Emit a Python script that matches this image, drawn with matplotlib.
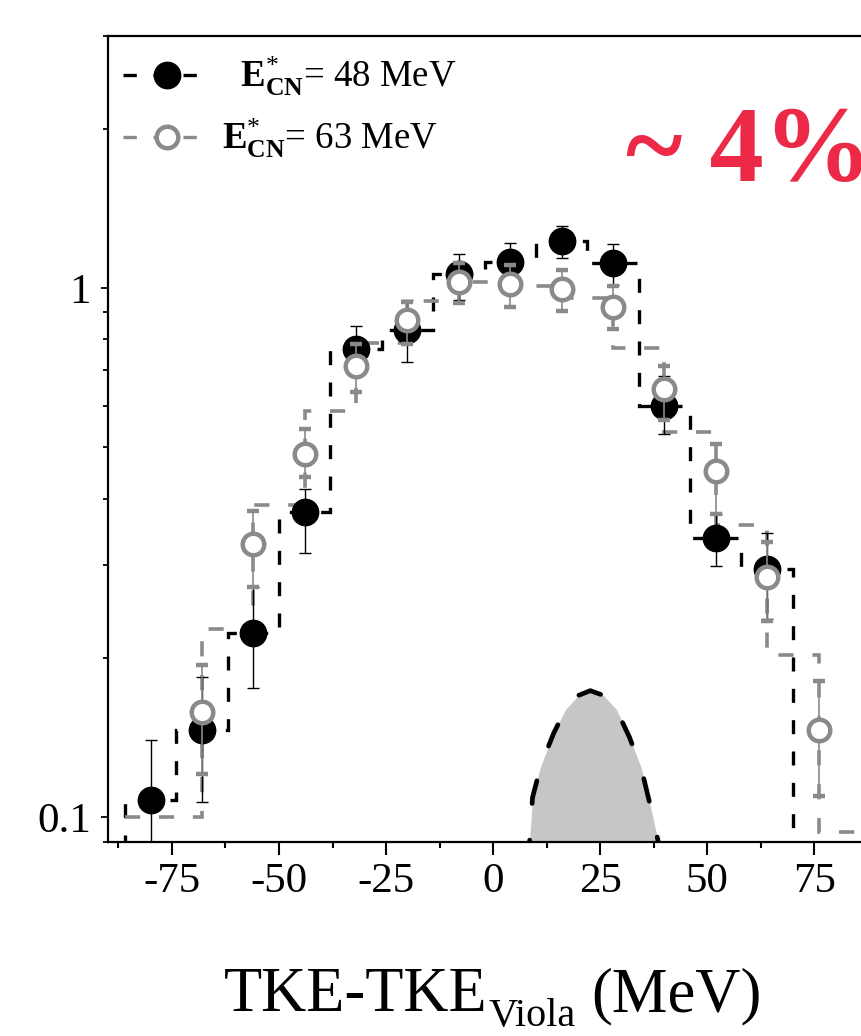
import numpy as np
import matplotlib
matplotlib.use('Agg')
import matplotlib.pyplot as plt
from matplotlib.lines import Line2D
from matplotlib.ticker import FixedLocator, MultipleLocator, FixedFormatter, NullFormatter, FormatStrFormatter

plt.rcParams['font.family'] = ['Liberation Serif', 'DejaVu Serif']
plt.rcParams['mathtext.fontset'] = 'custom'
plt.rcParams['mathtext.rm'] = 'Liberation Serif'
plt.rcParams['mathtext.bf'] = 'Liberation Serif:bold'
plt.rcParams['mathtext.it'] = 'Liberation Serif:italic'
plt.rcParams['axes.unicode_minus'] = False

# ---------------- data ----------------
tke = [-80, -68, -56, -44, -32, -20, -8, 4, 16, 28, 40, 52, 64, 76]

y48 = [0.108, 0.146, 0.223, 0.378, 0.768, 0.832, 1.065, 1.120, 1.227, 1.115, 0.600, 0.337, 0.295, np.nan]
e48_lo = [0.032, 0.039, 0.047, 0.062, 0.086, 0.107, 0.117, 0.104, 0.086, 0.103, 0.071, 0.039, 0.058, np.nan]
e48_hi = [0.032, 0.038, 0.049, 0.040, 0.080, 0.119, 0.093, 0.096, 0.081, 0.095, 0.082, 0.037, 0.050, np.nan]

y63 = [np.nan, 0.158, 0.329, 0.485, 0.714, 0.871, 1.026, 1.019, 0.997, 0.923, 0.645, 0.451, 0.285, 0.146]
e63_lo = [np.nan, 0.037, 0.057, 0.046, 0.078, 0.086, 0.089, 0.096, 0.092, 0.085, 0.081, 0.077, 0.050, 0.036]
e63_hi = [np.nan, 0.036, 0.050, 0.057, 0.071, 0.070, 0.090, 0.085, 0.086, 0.085, 0.067, 0.057, 0.047, 0.035]

# step (histogram) outlines
edges48 = [-86, -74, -62, -50, -38, -26, -14, -2, 10, 22, 34, 46, 58, 70]
steps48 = [0.108, 0.146, 0.223, 0.378, 0.768, 0.832, 1.065, 1.120, 1.227, 1.115, 0.600, 0.337, 0.295]

edges63 = [-86, -68, -56, -44, -32, -20, -8, 4, 16, 28, 40, 52, 64, 76, 92]
steps63 = [0.100, 0.227, 0.390, 0.585, 0.787, 0.944, 1.025, 1.007, 0.959, 0.770, 0.534, 0.357, 0.203, 0.094]

# shaded peak
peak_x = [8.2, 8.5, 9.2, 11.1, 14.1, 16.9, 19.9, 22.7, 25.8, 28.8, 31.8, 34.6, 36.5, 38.6, 39.2]
peak_y = [0.085, 0.0897, 0.109, 0.125, 0.144, 0.160, 0.170, 0.1736, 0.170, 0.160, 0.142, 0.124, 0.107, 0.0897, 0.085]

labels = [r'  $\mathbf{E}^{*}_{\mathbf{CN}}$= 48 MeV', r'$\mathbf{E}^{*}_{\mathbf{CN}}$= 63 MeV']
xticks = [-75, -50, -25, 0, 25, 50, 75]
yticks = [0.1, 1]
ytick_labels = ['0.1', '1']

GRAY = '#8a8a8a'
RED = '#EC2A48'

# ---------------- figure ----------------
W, H = 862, 1036
fig = plt.figure(figsize=(W / 100, H / 100), dpi=100)
ax = fig.add_axes([107.7 / W, (H - 841.7) / H, 770.8 / W, 806.2 / H])
ax.set_yscale('log')
ax.set_xlim(-90, 90)
ax.set_ylim(0.09, 3.0)

# peak
ax.fill_between(peak_x, peak_y, 0.01, color='#c6c6c6', lw=0, zorder=1)
ax.plot(peak_x, peak_y, color='k', lw=3.4, ls=(1.79, (4.93, 7.77)), dash_capstyle='round', zorder=2)

# histograms
ax.stairs(steps48, edges48, baseline=0.01, color='k', lw=2.4, ls=(0, (4.2, 5.2)), zorder=3)
ax.stairs(steps63, edges63, baseline=None, color=GRAY, lw=2.6, ls=(0, (4.2, 5.2)), zorder=3)

# points
ax.errorbar(tke, y48, yerr=[e48_lo, e48_hi], fmt='o', color='k', ms=19, mfc='k', mec='k',
            ecolor='k', elinewidth=1.0, capsize=4, capthick=1.0, zorder=5)
ax.errorbar(tke, y63, yerr=[e63_lo, e63_hi], fmt='o', color=GRAY, ms=15.5, mfc='white', mec=GRAY,
            mew=3.2, ecolor=GRAY, elinewidth=1.2, capsize=4, capthick=1.2, zorder=6)

# axes styling
for s in ['left', 'bottom', 'top']:
    ax.spines[s].set_linewidth(1.6)
ax.spines['right'].set_visible(False)

ax.xaxis.set_major_locator(FixedLocator(xticks))
ax.xaxis.set_minor_locator(MultipleLocator(12.5))
ax.xaxis.set_major_formatter(FormatStrFormatter('%d'))
ax.yaxis.set_major_locator(FixedLocator(yticks))
ax.yaxis.set_major_formatter(FixedFormatter(ytick_labels))
ax.yaxis.set_minor_locator(matplotlib.ticker.LogLocator(base=10, subs=np.arange(2, 10)))
ax.yaxis.set_minor_formatter(NullFormatter())

ax.tick_params(axis='x', which='major', direction='out', length=9, width=1.5, labelsize=31, pad=6)
ax.tick_params(axis='x', which='minor', direction='out', length=4.5, width=1.5)
ax.tick_params(axis='y', which='major', direction='out', length=5, width=1.3, labelsize=31, pad=7)
ax.tick_params(axis='y', which='minor', direction='out', length=3.5, width=1.3)
ax.tick_params(top=False, right=False, which='both')

# x label (composed: main text, lowered subscript, unit)
renderer = fig.canvas.get_renderer()
base_y = (H - 1011) / H
sub_y = (H - 1026) / H
t1 = fig.text(0, base_y, 'TKE-TKE', fontsize=45, ha='left', va='baseline')
t2 = fig.text(0, sub_y, 'Viola', fontsize=29, ha='left', va='baseline')
t3 = fig.text(0, base_y, '(MeV)', fontsize=45, ha='left', va='baseline')
w1 = t1.get_window_extent(renderer).width
w2 = t2.get_window_extent(renderer).width
w3 = t3.get_window_extent(renderer).width
gap = 16
total = w1 + 1 + w2 + gap + w3
x0 = 493 - total / 2
t1.set_x(x0 / W)
t2.set_x((x0 + w1 + 1) / W)
t3.set_x((x0 + w1 + 1 + w2 + gap) / W)

# red annotation
fig.text(626 / W, (H - 180.7) / H, '~ 4%', fontsize=78, fontweight='bold', color=RED,
         ha='left', va='baseline')

# legend
h1 = Line2D([], [], color='k', lw=2.4, ls=(0, (4, 5)), marker='o', ms=19, mfc='k', mec='k')
h2 = Line2D([], [], color=GRAY, lw=2.4, ls=(0, (4, 5)), marker='o', ms=15.5, mfc='white', mec=GRAY, mew=3.2)
ax.legend([h1, h2], labels, loc='upper left', bbox_to_anchor=(0.02, 0.976), frameon=False,
          fontsize=26.5, handlelength=2.4, handletextpad=0.3, labelspacing=0.5,
          borderaxespad=0, borderpad=0, numpoints=1)

fig.savefig('out.png', dpi=100)
